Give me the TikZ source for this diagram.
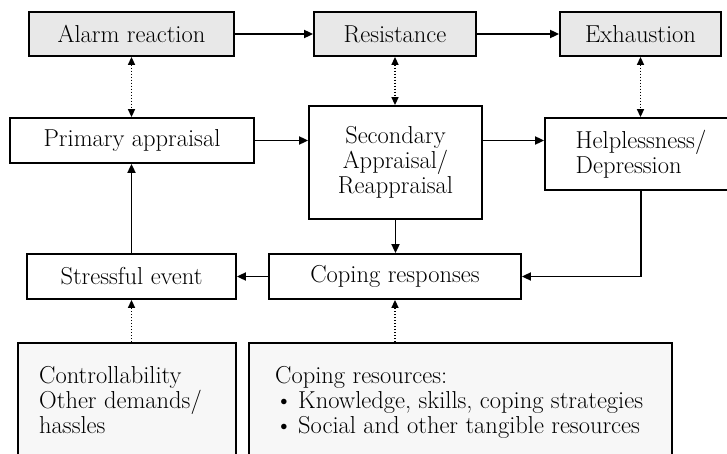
\documentclass[tikz,border=0pt]{standalone}
\usepackage{fontspec}
\usetikzlibrary{arrows.meta}
\begin{document}
\begin{tikzpicture}[x=1pt,y=-1pt,
  box/.style={draw, line width=1.8pt, inner sep=0pt, align=center,
              font=\fontsize{24.5}{25}\selectfont},
  stagebox/.style={box, fill=gray!18},
  resbox/.style={draw, line width=1.8pt, fill=gray!6, inner sep=0pt, anchor=north west},
  body/.style={inner sep=0pt, anchor=north west, align=left,
               font=\fontsize{24.5}{25}\selectfont},
  flow/.style={line width=1.8pt, -{Triangle[length=9pt,width=8pt]}},
  link/.style={line width=1.5pt, dash pattern=on 1.5pt off 1.5pt,
               {Triangle[length=8pt,width=7pt]}-{Triangle[length=8pt,width=7pt]}},
  influence/.style={line width=1.5pt, dash pattern=on 1.5pt off 1.5pt,
                    -{Triangle[length=8pt,width=7pt]}},
]
\path[use as bounding box, clip] (0,0) rectangle (727,454);

% stages of the general adaptation syndrome
\node[stagebox, minimum width=205pt, minimum height=44pt] (alarm)   at (131.5,34) {Alarm reaction};
\node[stagebox, minimum width=162pt, minimum height=44pt] (resist)  at (395,34)   {Resistance};
\node[stagebox, minimum width=161pt, minimum height=44pt] (exhaust) at (640.5,34) {Exhaustion};

% appraisal level
\node[box, minimum width=244pt, minimum height=45pt]  (primary)   at (132,140.5)   {Primary appraisal};
\node[box, minimum width=173pt, minimum height=113pt] (secondary) at (395.5,162.5) {Secondary\\Appraisal/\\Reappraisal};
\node[box, minimum width=192pt, minimum height=72pt, align=left] (helpless) at (641,154) {Helplessness/\\Depression};

% event and coping
\node[box, minimum width=209pt, minimum height=45pt] (stress) at (131.5,276.5) {Stressful event};
\node[box, minimum width=252pt, minimum height=45pt] (coping) at (395,276.5)   {Coping responses};

% moderating factors
\node[resbox, minimum width=218pt, minimum height=130pt] (factors)   at (17,342)  {};
\node[resbox, minimum width=423pt, minimum height=130pt] (resources) at (248,342) {};
\node[body] (factorstext) at (39,366) {Controllability\\Other demands/\\hassles};
\node[body] (resourcestext) at (275,366) {Coping resources:\\
  \makebox[23pt][l]{\textbullet}Knowledge, skills, coping strategies\\
  \makebox[23pt][l]{\textbullet}Social and other tangible resources};

% stage sequence
\draw[flow] (alarm) -- (resist);
\draw[flow] (resist) -- (exhaust);

% stage <-> appraisal correspondences
\draw[link] (alarm.south) -- (primary.north -| alarm.south);
\draw[link] (resist.south) -- (secondary.north -| resist.south);
\draw[link] (exhaust.south) -- (helpless.north -| exhaust.south);

% appraisal flow
\draw[flow] (primary.east) -- (secondary.west |- primary.east);
\draw[flow] (secondary.east |- primary.east) -- (helpless.west |- primary.east);
\draw[flow] (secondary.south) -- (coping.north -| secondary.south);
\draw[flow] (helpless.south) |- (coping.east);
\draw[flow] (coping.west) -- (stress.east);
\draw[flow] (stress.north) -- (primary.south -| stress.north);

% moderators
\draw[influence] (stress.south |- factors.north) -- (stress.south);
\draw[influence] (coping.south |- resources.north) -- (coping.south);
\end{tikzpicture}
\end{document}
